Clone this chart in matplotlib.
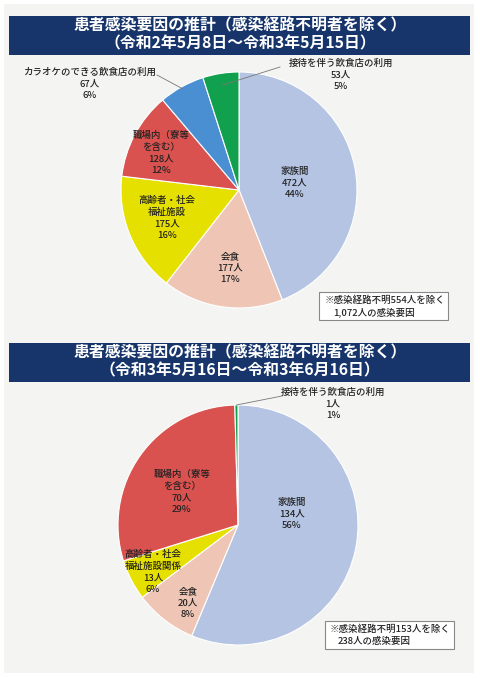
import matplotlib
matplotlib.use("Agg")
import matplotlib.pyplot as plt
import numpy as np
from matplotlib.patches import Rectangle

plt.rcParams["font.family"] = ["Noto Sans CJK JP", "DejaVu Sans"]

W, H = 480, 679

# ---- data: upper chart (R2.5.8 - R3.5.15)
title1 = ["患者感染要因の推計（感染経路不明者を除く）", "（令和2年5月8日～令和3年5月15日）"]
causes1 = ["家族間", "会食", "高齢者・社会\n福祉施設", "職場内（寮等\nを含む）",
           "カラオケのできる飲食店の利用", "接待を伴う飲食店の利用"]
counts1 = [472, 177, 175, 128, 67, 53]
pcts1 = [44, 17, 16, 12, 6, 5]
note1 = ["※感染経路不明554人を除く", "1,072人の感染要因"]

# ---- data: lower chart (R3.5.16 - R3.6.16)
title2 = ["患者感染要因の推計（感染経路不明者を除く）", "（令和3年5月16日～令和3年6月16日）"]
causes2 = ["家族間", "会食", "高齢者・社会\n福祉施設関係", "職場内（寮等\nを含む）",
           "接待を伴う飲食店の利用"]
counts2 = [134, 20, 13, 70, 1]
pcts2 = [56, 8, 6, 29, 1]
note2 = ["※感染経路不明153人を除く", "238人の感染要因"]

COLORS = {
    "家族間": "#b4c4e2",
    "会食": "#efc6b6",
    "高齢者": "#e6e000",
    "職場内": "#d9524f",
    "カラオケ": "#4b8fd3",
    "接待": "#11a04d",
}


def color_of(cause):
    for k, c in COLORS.items():
        if cause.startswith(k):
            return c
    return "gray"


def Y(y):
    # image coords (y down) -> axes coords (y up)
    return H - y


fig = plt.figure(figsize=(4.8, 6.79), dpi=100)
fig.patch.set_facecolor("white")
ax = fig.add_axes([0, 0, 1, 1])

# scanned page background
ax.add_patch(Rectangle((4, Y(673)), 470, 669, facecolor="#f4f4f2", edgecolor="none", zorder=0))


def panel(titles, causes, counts, pcts, note, banner_top, center, radius,
          label_pos, leaders, box, note_pos):
    # title banner
    ax.add_patch(Rectangle((9, Y(banner_top + 39)), 461, 39, facecolor="#17356b",
                           edgecolor="none", zorder=1))
    ax.text(W / 2, Y(banner_top + 9.5), titles[0], color="white", fontsize=11.4,
            fontweight="bold", ha="center", va="center", zorder=2)
    ax.text(W / 2, Y(banner_top + 27.5), titles[1], color="white", fontsize=11.4,
            fontweight="bold", ha="center", va="center", zorder=2)

    cx, cy = center[0], Y(center[1])
    wedges, _ = ax.pie(counts, colors=[color_of(c) for c in causes], startangle=90,
                       counterclock=False, center=(cx, cy), radius=radius, frame=True,
                       wedgeprops=dict(edgecolor="white", linewidth=0.8))
    for w in wedges:
        w.set_zorder(3)

    for cause, n, p, pos in zip(causes, counts, pcts, label_pos):
        ax.text(pos[0], Y(pos[1]), f"{cause}\n{n}人\n{p}%", fontsize=6.8, color="#222222",
                fontweight="medium", ha="center", va="center", linespacing=1.35, zorder=5)

    for idx, start, frac in leaders:
        w = wedges[idx]
        ang = np.deg2rad((w.theta1 + w.theta2) / 2)
        ex, ey = cx + frac * radius * np.cos(ang), cy + frac * radius * np.sin(ang)
        ax.plot([start[0], ex], [Y(start[1]), ey], color="#777777", lw=0.6, zorder=4)

    x0, y0, x1, y1 = box
    ax.add_patch(Rectangle((x0, Y(y1)), x1 - x0, y1 - y0, facecolor="white",
                           edgecolor="#888888", lw=0.8, zorder=4))
    for line, pos in zip(note, note_pos):
        ax.text(pos[0], Y(pos[1]), line, fontsize=6.8, color="#222222",
                fontweight="medium", ha="left", va="center", zorder=5)


panel(title1, causes1, counts1, pcts1, note1, banner_top=16, center=(239, 190), radius=118,
      label_pos=[(295, 183), (230, 268), (167, 218), (161, 153), (90, 84), (341, 75)],
      leaders=[(4, (157, 75), 0.98), (5, (280, 67), 0.9)],
      box=(319, 292, 448, 320), note_pos=[(325, 300), (333, 312)])

panel(title2, causes2, counts2, pcts2, note2, banner_top=343, center=(238, 525), radius=120,
      label_pos=[(292, 514), (188, 603), (153, 572), (182, 492), (333, 404)],
      leaders=[(4, (282, 396), 1.0)],
      box=(325, 621, 454, 649), note_pos=[(330, 629), (338, 641)])

ax.set_xlim(0, W)
ax.set_ylim(0, H)
ax.set_aspect("equal")
ax.axis("off")

fig.savefig("out.png", dpi=100, facecolor="white")
